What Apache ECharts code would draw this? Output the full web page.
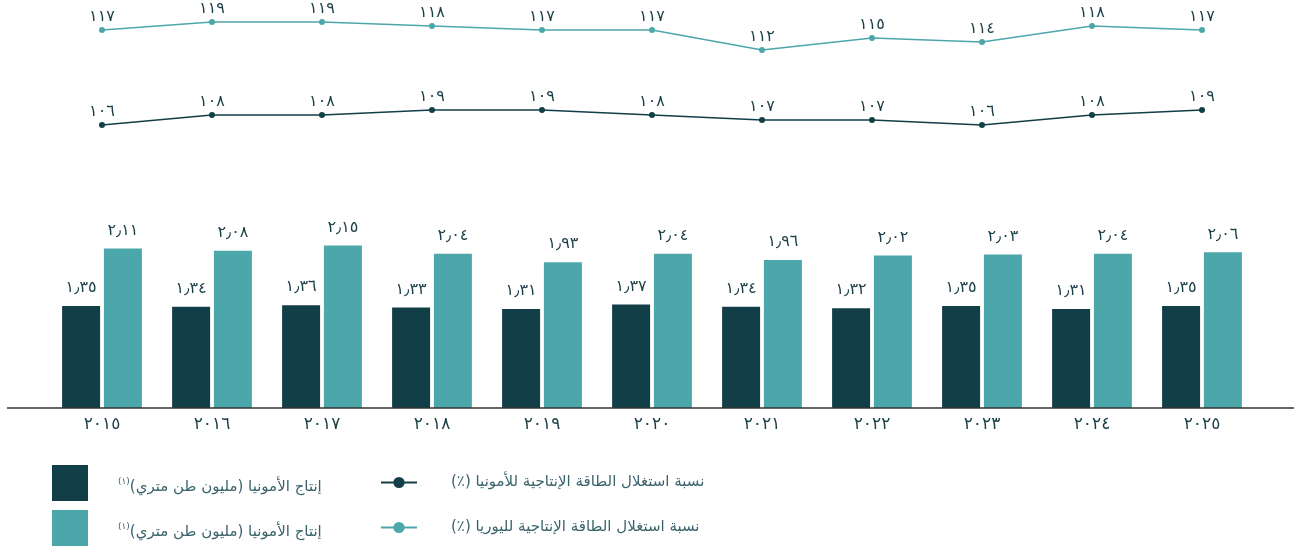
<!doctype html>
<html>
<head>
<meta charset="UTF-8">
<script src="https://cdn.jsdelivr.net/npm/echarts@6/dist/echarts.min.js"></script>
<style>
  html, body { margin: 0; padding: 0; background: #fff; }
  #chart { width: 1294px; height: 546px; }
</style>
</head>
<body>
<div id="chart"></div>
<script>
// data
var years = ['2015', '2016', '2017', '2018', '2019', '2020', '2021', '2022', '2023', '2024', '2025'];
var ammoniaProd = [1.35, 1.34, 1.36, 1.33, 1.31, 1.37, 1.34, 1.32, 1.35, 1.31, 1.35];
var ureaProd = [2.11, 2.08, 2.15, 2.04, 1.93, 2.04, 1.96, 2.02, 2.03, 2.04, 2.06];
var ammoniaRate = [106, 108, 108, 109, 109, 108, 107, 107, 106, 108, 109];
var ureaRate = [117, 119, 119, 118, 117, 117, 112, 115, 114, 118, 117];

var RLM = '\u200f';
var nameAmmoniaRate = 'نسبة استغلال الطاقة الإنتاجية للأمونيا (٪)' + RLM;
var nameUreaRate = 'نسبة استغلال الطاقة الإنتاجية لليوريا (٪)' + RLM;
var nameAmmoniaProd = 'إنتاج الأمونيا (مليون طن متري)' + RLM;
var nameUreaProd = 'إنتاج الأمونيا (مليون طن متري)' + RLM + RLM;

var dark = '#123e48';
var teal = '#4ca7aa';
var textCol = '#1b3f47';
var legendCol = '#3a636b';
var font = 'DejaVu Sans';

// western digits -> arabic-indic
function ar(s) {
    return String(s).replace(/[0-9]/g, function (d) {
        return String.fromCharCode(0x660 + Number(d));
    }).replace('.', '\u066b');
}

var myChart = echarts.init(document.getElementById('chart'));

function barLegend(name, top) {
    return {
        data: [name],
        left: 52, top: top,
        padding: 0,
        icon: 'rect',
        itemWidth: 36, itemHeight: 36,
        selectedMode: false,
        formatter: function (n) { return '{s|(١)}{t|' + n + '}'; },
        textStyle: {
            padding: [8, 0, 0, 25],
            rich: {
                s: { fontFamily: font, fontSize: 9, color: legendCol, padding: [0, 0, 10, 0] },
                t: { fontFamily: font, fontSize: 15, color: legendCol }
            }
        }
    };
}

function lineLegend(name, top) {
    return {
        data: [name],
        left: 380, top: top,
        padding: 0,
        itemWidth: 36, itemHeight: 14,
        selectedMode: false,
        textStyle: { fontFamily: font, fontSize: 15, color: legendCol, padding: [0, 0, 0, 29] }
    };
}

function numLabel(size, dist, fmt) {
    return {
        show: true, position: 'top', distance: dist,
        fontFamily: font, fontSize: size, color: textCol,
        formatter: fmt
    };
}

var option = {
    animation: false,
    grid: { left: 47, right: 37, top: 0, bottom: 138 },
    legend: [
        barLegend(nameAmmoniaProd, 465),
        barLegend(nameUreaProd, 510),
        lineLegend(nameAmmoniaRate, 475),
        lineLegend(nameUreaRate, 520)
    ],
    xAxis: {
        type: 'category',
        data: years,
        axisLine: { show: false },
        axisTick: { show: false },
        axisLabel: {
            margin: 8,
            fontFamily: font, fontSize: 17, color: textCol,
            formatter: function (v) { return ar(v); }
        }
    },
    yAxis: [
        { type: 'value', min: 0, max: 5.4, show: false },
        { type: 'value', min: 49.4, max: 131, show: false },
        { type: 'value', min: 22.5, max: 124.5, show: false }
    ],
    series: [
        {
            name: nameAmmoniaProd,
            type: 'bar',
            yAxisIndex: 0,
            data: ammoniaProd,
            barWidth: 38,
            barGap: '10%',
            itemStyle: { color: dark },
            label: numLabel(16, 10, function (p) { return ar(p.value.toFixed(2)); })
        },
        {
            name: nameUreaProd,
            type: 'bar',
            yAxisIndex: 0,
            data: ureaProd,
            barWidth: 38,
            itemStyle: { color: teal },
            label: numLabel(16, 10, function (p) { return ar(p.value.toFixed(2)); })
        },
        {
            name: nameAmmoniaRate,
            type: 'line',
            yAxisIndex: 1,
            data: ammoniaRate,
            symbol: 'circle',
            symbolSize: 6,
            itemStyle: { color: dark },
            lineStyle: { color: dark, width: 1.5 },
            label: numLabel(16, 2, function (p) { return ar(p.value); })
        },
        {
            name: nameUreaRate,
            type: 'line',
            yAxisIndex: 2,
            data: ureaRate,
            symbol: 'circle',
            symbolSize: 6,
            itemStyle: { color: teal },
            lineStyle: { color: teal, width: 1.5 },
            label: numLabel(16, 2, function (p) { return ar(p.value); })
        }
    ],
    graphic: [
        {
            type: 'line',
            shape: { x1: 7, y1: 408, x2: 1294, y2: 408 },
            style: { stroke: '#333', lineWidth: 1.5 },
            z: 10
        }
    ]
};
myChart.setOption(option);
</script>
</body>
</html>
